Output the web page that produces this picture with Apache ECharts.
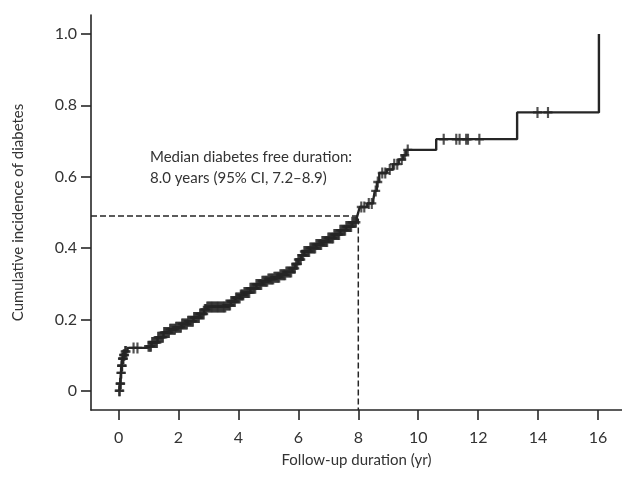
<!DOCTYPE html>
<html>
<head>
<meta charset="utf-8">
<script src="https://cdn.jsdelivr.net/npm/echarts@6/dist/echarts.min.js"></script>
<style>
  html, body { margin: 0; padding: 0; background: #fff; }
  #container { width: 622px; height: 481px; }
</style>
</head>
<body>
<div id="container"></div>
<script>
// event times (yr) and cumulative incidence after each event
var eventTimes = [0.03, 0.05, 0.08, 0.1, 0.13, 0.17, 0.22, 0.3,
  0.95, 1.1, 1.3, 1.5, 1.7, 1.9, 2.1, 2.3, 2.5, 2.7, 2.85, 2.95,
  3.6, 3.75, 3.9, 4.05, 4.2, 4.4, 4.6, 4.8, 5.0, 5.2, 5.4, 5.6, 5.8, 5.9,
  6.0, 6.1, 6.2, 6.4, 6.6, 6.8, 7.0, 7.2, 7.4, 7.6, 7.8, 7.95, 8.0, 8.05,
  8.3, 8.5, 8.55, 8.62, 8.7, 8.95, 9.15, 9.35, 9.5, 9.6, 10.6, 13.3, 16.03];
var incidence = [0.0, 0.02, 0.05, 0.07, 0.09, 0.10, 0.11, 0.12,
  0.125, 0.135, 0.15, 0.163, 0.172, 0.178, 0.187, 0.195, 0.205, 0.215, 0.228, 0.235,
  0.24, 0.25, 0.26, 0.268, 0.275, 0.287, 0.298, 0.307, 0.313, 0.318, 0.325, 0.333, 0.343, 0.355,
  0.368, 0.38, 0.39, 0.40, 0.41, 0.418, 0.428, 0.438, 0.45, 0.46, 0.472, 0.485, 0.50, 0.515,
  0.525, 0.535, 0.56, 0.585, 0.61, 0.62, 0.635, 0.648, 0.66, 0.675, 0.705, 0.78, 1.0];

// censored observations (yr)
var censorTimes = [0.02, 0.04, 0.05, 0.06, 0.07, 0.08, 0.09, 0.1, 0.11, 0.12, 0.13, 0.14, 0.15, 0.16,
  0.17, 0.18, 0.2, 0.22, 0.25, 0.5, 0.63,
  1.0, 1.04, 1.08, 1.12, 1.16, 1.2, 1.24, 1.28, 1.32, 1.36, 1.4, 1.44, 1.48, 1.52, 1.56, 1.6,
  1.64, 1.68, 1.72, 1.76, 1.8, 1.84, 1.88, 1.92, 1.96, 2.0, 2.04, 2.08, 2.12, 2.16, 2.2,
  2.24, 2.28, 2.32, 2.36, 2.4, 2.44, 2.48, 2.52, 2.56, 2.6, 2.64, 2.68, 2.72, 2.76, 2.8,
  2.84, 2.88, 2.92, 2.96, 3.0, 3.04, 3.08, 3.12, 3.16, 3.2, 3.24, 3.28, 3.32, 3.36, 3.4,
  3.44, 3.48, 3.52, 3.56, 3.6, 3.64, 3.68, 3.72, 3.76, 3.8, 3.84, 3.88, 3.92, 3.96, 4.0,
  4.04, 4.08, 4.12, 4.16, 4.2, 4.24, 4.28, 4.32, 4.36, 4.4, 4.44, 4.48, 4.52, 4.56, 4.6,
  4.64, 4.68, 4.72, 4.76, 4.8, 4.84, 4.88, 4.92, 4.96, 5.0, 5.04, 5.08, 5.12, 5.16, 5.2,
  5.24, 5.28, 5.32, 5.36, 5.4, 5.44, 5.48, 5.52, 5.56, 5.6, 5.64, 5.68, 5.72, 5.76, 5.8,
  5.84, 5.88, 5.92, 5.96, 6.0, 6.04, 6.08, 6.12, 6.16, 6.2, 6.24, 6.28, 6.32, 6.36, 6.4,
  6.44, 6.48, 6.52, 6.56, 6.6, 6.64, 6.68, 6.72, 6.76, 6.8, 6.84, 6.88, 6.92, 6.96, 7.0,
  7.04, 7.08, 7.12, 7.16, 7.2, 7.24, 7.28, 7.32, 7.36, 7.4, 7.44, 7.48, 7.52, 7.56, 7.6,
  7.64, 7.68, 7.72, 7.76, 7.8, 7.84, 7.88, 7.92,
  8.1, 8.2, 8.35, 8.45, 8.58, 8.65, 8.8, 8.9, 9.05, 9.2, 9.3, 9.45, 9.55, 9.65,
  10.85, 11.27, 11.38, 11.6, 11.66, 12.04, 13.98, 14.33];

var xTicks = [0, 2, 4, 6, 8, 10, 12, 14, 16];
var yTicks = [0, 0.2, 0.4, 0.6, 0.8, 1.0];

var medianTime = 8.0;
var medianLevel = 0.49;

var xMin = -0.92, xMax = 16.8;
var yMin = -0.054, yMax = 1.053;

var curveData = eventTimes.map(function (t, i) { return [t, incidence[i]]; });

function stepAt(t) {
  var v = 0;
  for (var i = 0; i < eventTimes.length; i++) {
    if (eventTimes[i] <= t) v = incidence[i];
  }
  return v;
}
var censorData = censorTimes.map(function (t) { return [t, stepAt(t)]; });

var plusPath = 'path://M-0.24,-1 L0.24,-1 L0.24,-0.22 L1,-0.22 L1,0.22 L0.24,0.22 L0.24,1 L-0.24,1 L-0.24,0.22 L-1,0.22 L-1,-0.22 L-0.24,-0.22 Z';

var ink = '#262626';
var font = 'Lato';

var dom = document.getElementById('container');
var myChart = echarts.init(dom, null, { renderer: 'canvas' });

var option = {
  animation: false,
  backgroundColor: '#fff',
  grid: { left: 91, right: 0, top: 15, bottom: 71 },
  xAxis: {
    type: 'value',
    min: xMin,
    max: xMax,
    name: 'Follow-up duration (yr)',
    nameLocation: 'middle',
    nameGap: 43,
    nameTextStyle: { color: '#333', fontFamily: font, fontSize: 15 },
    splitLine: { show: false },
    axisLine: { show: true, onZero: false, lineStyle: { color: ink, width: 1.6 } },
    axisTick: { show: true, customValues: xTicks, length: 10, lineStyle: { color: ink, width: 1.6 } },
    axisLabel: { customValues: xTicks, margin: 20, color: '#333', fontFamily: font, fontSize: 16 }
  },
  yAxis: {
    type: 'value',
    min: yMin,
    max: yMax,
    name: 'Cumulative incidence of diabetes',
    nameLocation: 'middle',
    nameGap: 65,
    nameTextStyle: { color: '#333', fontFamily: font, fontSize: 15 },
    splitLine: { show: false },
    axisLine: { show: true, onZero: false, lineStyle: { color: ink, width: 1.6 } },
    axisTick: { show: true, customValues: yTicks, length: 10, lineStyle: { color: ink, width: 1.6 } },
    axisLabel: {
      customValues: yTicks, margin: 14, color: '#333', fontFamily: font, fontSize: 16,
      formatter: function (v) { return v === 0 ? '0' : v.toFixed(1); }
    }
  },
  graphic: [{
    type: 'text',
    left: 150,
    top: 147,
    style: {
      text: 'Median diabetes free duration:\n8.0 years (95% CI, 7.2\u20138.9)',
      font: '15px ' + font,
      fill: '#333',
      lineHeight: 21
    }
  }],
  series: [
    {
      name: 'Median',
      type: 'line',
      data: [[xMin, medianLevel], [medianTime, medianLevel], [medianTime, yMin]],
      symbol: 'none',
      silent: true,
      lineStyle: { color: ink, width: 1.5, type: [6, 3] },
      z: 1
    },
    {
      name: 'Cumulative incidence',
      type: 'line',
      step: 'end',
      data: curveData,
      symbol: 'none',
      lineStyle: { color: ink, width: 2.4 },
      z: 3
    },
    {
      name: 'Censored',
      type: 'scatter',
      data: censorData,
      symbol: plusPath,
      symbolSize: [9, 11],
      itemStyle: { color: ink },
      z: 4
    }
  ]
};

myChart.setOption(option);
window.addEventListener('resize', myChart.resize);
</script>
</body>
</html>
